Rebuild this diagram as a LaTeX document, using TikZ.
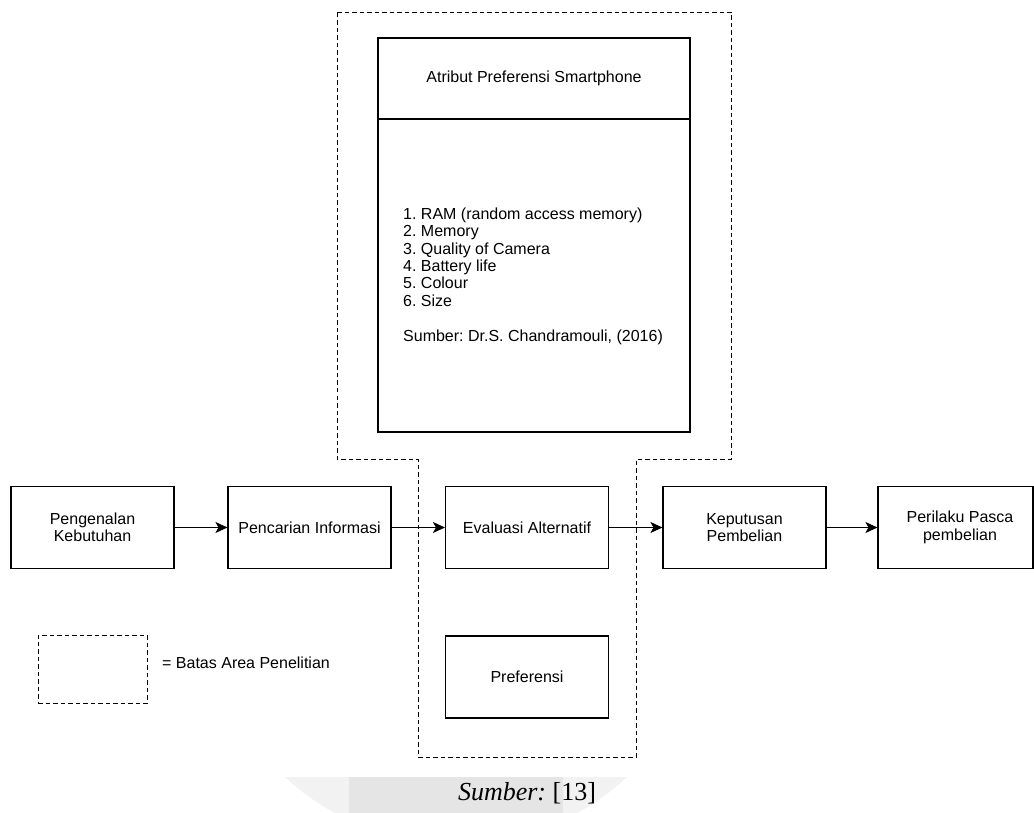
\documentclass[tikz,border=0pt]{standalone}
\usepackage{fontspec}
\setmainfont{Liberation Sans}
\newfontfamily\timesfont{Liberation Serif}
\usetikzlibrary{arrows.meta}
\frenchspacing

\begin{document}
\begin{tikzpicture}[x=1pt, y=-1pt,
  box/.style={draw, line width=1.1pt, minimum width=163pt, minimum height=82pt, inner sep=0pt, align=center, font=\fontsize{16}{17.4}\selectfont},
  area/.style={draw, line width=0.9pt, dash pattern=on 4.5pt off 3pt},
  flow/.style={-{Stealth[length=12pt, width=11pt, inset=3pt]}, line width=1.1pt}]
\useasboundingbox (0,0) rectangle (1034,813);
% Watermark band
\begin{scope}
\clip (0,777) rectangle (1034,813);
\fill[black!5] (456,592) circle (252);
\fill[black!10] (349,777) rectangle (563,813);
\end{scope}
% Research area
\draw[area] (337,12) -- (731,12) -- (731,459) -- (636,459) -- (636,757) -- (418,757) -- (418,459) -- (337,459) -- cycle;
% Attribute box
\node[box, minimum width=312pt, minimum height=81pt] (atr) at (534,78.5) {Atribut Preferensi Smartphone};
\node[box, minimum width=312pt, minimum height=313pt] (isi) at (534,275.5) {};
\node[anchor=west, align=left, inner sep=0pt, font=\fontsize{16}{17.4}\selectfont] (daftar) at (403,276) {1. RAM (random access memory)\\2. Memory\\3. Quality of Camera\\4. Battery life\\5. Colour\\6. Size\\[17.4pt]Sumber: Dr.S. Chandramouli, (2016)};
% Stages
\node[box] (p1) at (92.5,527.5) {Pengenalan\\Kebutuhan};
\node[box] (p2) at (309.5,527.5) {Pencarian Informasi};
\node[box] (p3) at (527,527.5) {Evaluasi Alternatif};
\node[box] (p4) at (744.5,527.5) {Keputusan\\Pembelian};
\node[box, minimum width=155pt] (p5) at (955.5,527.5) {\hspace*{9pt}Perilaku Pasca\\\hspace*{9pt}pembelian};
\node[box] (pref) at (527,677) {Preferensi};
% Arrows
\draw[flow] (p1) -- (p2);
\draw[flow] (p2) -- (p3);
\draw[flow] (p3) -- (p4);
\draw[flow] (p4) -- (p5);
% Legend
\node[area, minimum width=109pt, minimum height=68pt] (leg) at (92.5,669) {};
\node[anchor=west, inner sep=0pt, font=\fontsize{16}{17.4}\selectfont] (legtext) at (162,663) {= Batas Area Penelitian};
% Source
\node[font=\timesfont\fontsize{26}{30}\selectfont] (sumber) at (527,793) {\textit{Sumber:} [13]};
\end{tikzpicture}
\end{document}
